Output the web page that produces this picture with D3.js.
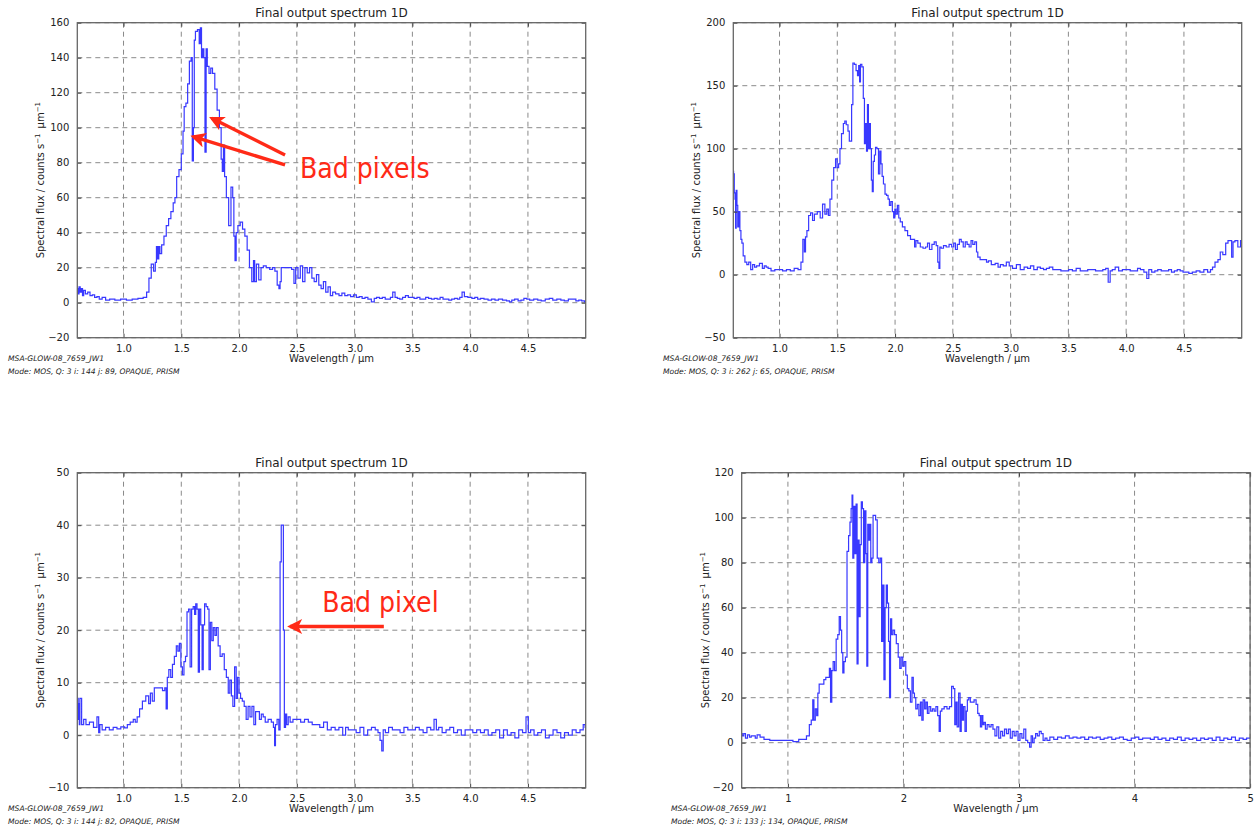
<!DOCTYPE html>
<html>
<head>
<meta charset="utf-8">
<script src="https://cdn.jsdelivr.net/npm/d3@7/dist/d3.min.js"></script>
<style>
  html, body { margin: 0; padding: 0; background: #fff; }
  svg { display: block; }
  text { font-family: "DejaVu Sans", sans-serif; fill: #222; }
</style>
</head>
<body>
<svg id="chart" width="1256" height="828"></svg>
<script>
// ---- Tick labels -------------------------------------------------------
const xTicksHalf = [1.0, 1.5, 2.0, 2.5, 3.0, 3.5, 4.0, 4.5];
const xTicksWhole = [1, 2, 3, 4, 5];
const yTicksA = [-20, 0, 20, 40, 60, 80, 100, 120, 140, 160];
const yTicksB = [-50, 0, 50, 100, 150, 200];
const yTicksC = [-10, 0, 10, 20, 30, 40, 50];
const yTicksD = [-20, 0, 20, 40, 60, 80, 100, 120];

// ---- Spectra: [wavelength (um), flux (counts/s/um)] ---------------------
const spectrumA = [[0.60,8],[0.61,5],[0.62,9],[0.63,6],[0.64,8],[0.65,4],[0.66,7],[0.68,5],[0.70,6],[0.72,4],[0.74,4.5],[0.76,3],[0.78,3.5],[0.80,2],[0.83,3],[0.86,1.5],[0.90,2],[0.95,1.5],[1.00,2],[1.05,1.5],[1.10,2],[1.15,2.5],[1.19,3],[1.21,6],[1.23,14],[1.25,22],[1.27,18],[1.28,23],[1.29,32],[1.30,25],[1.31,32],[1.32,28],[1.34,33],[1.36,38],[1.38,44],[1.40,48],[1.42,52],[1.44,57],[1.45,60],[1.47,72],[1.49,76],[1.51,85],[1.52,98],[1.53,112],[1.55,114],[1.56,125],[1.58,138],[1.59,140],[1.60,81],[1.61,100],[1.615,150],[1.63,155],[1.65,156],[1.66,148],[1.67,157],[1.68,140],[1.69,145],[1.70,140],[1.71,86],[1.72,145],[1.73,135],[1.75,131],[1.76,134],[1.78,131],[1.80,122],[1.82,110],[1.84,100],[1.85,82],[1.86,75],[1.87,90],[1.88,72],[1.90,60],[1.92,44],[1.94,66],[1.95,60],[1.96,38],[1.97,24],[1.98,40],[2.00,44],[2.02,46],[2.04,42],[2.06,38],[2.08,30],[2.10,20],[2.12,12],[2.13,24],[2.14,12],[2.16,22],[2.18,13],[2.20,20],[2.22,21],[2.25,20],[2.28,19],[2.30,20],[2.32,18],[2.34,10],[2.35,8],[2.36,12],[2.37,20],[2.40,20],[2.44,20],[2.47,19],[2.48,11],[2.50,20],[2.52,14],[2.54,21],[2.56,12],[2.58,20],[2.60,17],[2.62,20],[2.64,14],[2.66,12],[2.68,16],[2.70,10],[2.72,8],[2.74,12],[2.76,6],[2.78,9],[2.80,4],[2.82,6],[2.85,5],[2.88,4],[2.90,5.5],[2.93,4],[2.95,4.5],[2.98,3.5],[3.00,4.5],[3.03,3],[3.05,3.5],[3.08,2.5],[3.10,3],[3.13,2],[3.16,0.5],[3.18,2.5],[3.20,3],[3.23,2.5],[3.25,3],[3.28,2],[3.30,2],[3.32,3],[3.34,6],[3.36,3],[3.38,2.5],[3.40,2],[3.43,3],[3.45,4],[3.48,3],[3.50,3],[3.53,2.5],[3.55,3],[3.58,2],[3.60,2],[3.63,3],[3.65,2.5],[3.68,2],[3.70,2.5],[3.73,2],[3.75,3],[3.78,2],[3.80,2],[3.83,1.5],[3.85,2],[3.88,2.5],[3.90,2],[3.92,3],[3.94,6],[3.96,3.5],[4.00,3],[4.03,2.5],[4.05,3],[4.08,2],[4.10,2.5],[4.14,2],[4.17,1.5],[4.20,2],[4.23,1.5],[4.26,2],[4.30,1.5],[4.33,1],[4.35,0.5],[4.37,1.5],[4.40,2],[4.43,1],[4.45,1.5],[4.48,2.5],[4.50,2],[4.53,1.5],[4.57,2],[4.60,1.5],[4.63,1],[4.67,2],[4.70,2.5],[4.73,1.5],[4.77,2],[4.80,1.5],[4.83,1],[4.87,2],[4.90,2],[4.93,1],[4.95,1.5],[4.98,1],[5.00,0.5]];

const spectrumB = [[0.600,82],[0.605,80],[0.612,65],[0.618,60],[0.622,37],[0.628,67],[0.635,55],[0.642,38],[0.652,50],[0.662,35],[0.670,28],[0.679,25],[0.692,15],[0.709,10],[0.725,8],[0.742,10],[0.759,4],[0.776,8],[0.793,6],[0.81,7],[0.843,9],[0.86,5],[0.876,7],[0.893,6],[0.91,5],[0.943,3],[0.976,4],[1.01,4],[1.043,3],[1.077,4],[1.11,3],[1.144,5],[1.177,4],[1.194,10],[1.21,28],[1.22,18],[1.23,30],[1.244,35],[1.26,47],[1.278,49],[1.294,43],[1.31,48],[1.344,50],[1.36,45],[1.385,56],[1.40,48],[1.418,52],[1.428,47],[1.445,60],[1.46,75],[1.478,85],[1.492,92],[1.505,85],[1.518,88],[1.528,100],[1.545,112],[1.56,120],[1.57,122],[1.585,119],[1.60,114],[1.608,106],[1.618,106],[1.63,135],[1.64,168],[1.655,167],[1.67,162],[1.68,158],[1.69,166],[1.696,153],[1.705,167],[1.72,165],[1.73,140],[1.74,104],[1.75,120],[1.756,98],[1.766,135],[1.773,100],[1.783,120],[1.79,100],[1.80,75],[1.806,66],[1.816,90],[1.826,95],[1.836,101],[1.85,100],[1.863,80],[1.873,98],[1.883,88],[1.893,78],[1.906,72],[1.92,64],[1.933,63],[1.946,60],[1.956,55],[1.97,58],[1.983,50],[1.993,45],[2.003,52],[2.013,48],[2.027,55],[2.037,45],[2.053,42],[2.074,38],[2.097,35],[2.12,31],[2.147,28],[2.164,28],[2.174,22],[2.187,27],[2.207,25],[2.23,22],[2.254,21],[2.274,22],[2.288,25],[2.308,20],[2.33,24],[2.348,26],[2.364,23],[2.375,10],[2.385,5],[2.39,22],[2.408,21],[2.43,23],[2.455,22],[2.48,24],[2.50,22],[2.515,25],[2.53,20],[2.548,24],[2.565,28],[2.58,26],[2.60,22],[2.615,26],[2.632,24],[2.65,22],[2.665,27],[2.68,24],[2.70,26],[2.71,18],[2.722,14],[2.75,12],[2.783,12],[2.80,10],[2.816,11],[2.85,8],[2.883,9],[2.90,6],[2.923,8],[2.95,7],[2.976,10],[3.00,7],[3.033,5],[3.067,8],[3.10,4],[3.134,6],[3.16,5],[3.184,7],[3.217,4],[3.245,6],[3.27,5],[3.30,4],[3.32,5],[3.35,6],[3.38,4],[3.42,4],[3.45,3],[3.485,3],[3.52,4],[3.55,3],[3.585,5],[3.62,3],[3.65,3],[3.685,4],[3.72,4],[3.75,3],[3.786,3],[3.81,4],[3.836,5],[3.853,-6],[3.87,3],[3.89,4],[3.92,6],[3.95,3],[3.985,4],[4.02,4],[4.05,3],[4.087,3],[4.11,5],[4.137,4],[4.17,2],[4.187,-3],[4.205,4],[4.237,2],[4.26,3],[4.287,4],[4.32,3],[4.355,3],[4.38,4],[4.405,2],[4.43,3],[4.455,4],[4.48,3],[4.505,2],[4.53,2],[4.555,1],[4.59,2],[4.622,3],[4.655,2],[4.69,4],[4.72,2],[4.74,4],[4.755,6],[4.783,10],[4.806,12],[4.823,18],[4.85,16],[4.873,25],[4.89,27],[4.906,27],[4.92,14],[4.93,26],[4.953,27],[4.98,22],[5.0,27]];

const spectrumC = [[0.600,5],[0.605,7],[0.61,3],[0.615,6],[0.62,2],[0.625,7],[0.65,2],[0.66,3],[0.69,2],[0.72,2.5],[0.76,1.5],[0.78,3.5],[0.79,0.5],[0.80,2],[0.83,1],[0.86,1.5],[0.894,1],[0.927,1.5],[0.96,1.2],[0.993,1.6],[1.026,1.4],[1.04,2],[1.076,2.5],[1.093,3],[1.11,2.5],[1.126,3.5],[1.152,5],[1.175,6.5],[1.21,7.5],[1.225,6],[1.24,8],[1.258,6.5],[1.275,9],[1.29,9],[1.325,9],[1.35,8.5],[1.364,9],[1.374,5],[1.384,11],[1.40,12.5],[1.417,11],[1.43,13.5],[1.45,15],[1.464,17],[1.477,16],[1.49,17.5],[1.503,13],[1.516,11.5],[1.53,14],[1.543,15],[1.556,23.5],[1.57,24],[1.583,13],[1.596,24],[1.61,24.5],[1.62,23],[1.63,25],[1.642,24],[1.652,12],[1.662,24],[1.675,21],[1.685,12.5],[1.695,21],[1.708,25],[1.722,24.5],[1.735,24],[1.745,12.5],[1.758,21.5],[1.77,18],[1.784,20.5],[1.798,19],[1.81,20.5],[1.828,17],[1.844,15],[1.864,15.5],[1.88,12.5],[1.90,11],[1.913,8],[1.927,10.5],[1.94,7.5],[1.953,5.5],[1.97,13],[1.98,7],[1.993,11],[2.006,8],[2.02,7],[2.036,6.5],[2.053,5.5],[2.07,3],[2.086,5.5],[2.103,3.5],[2.12,5.5],[2.136,2],[2.15,4.5],[2.167,4.5],[2.185,3],[2.20,4],[2.218,3.5],[2.235,2.5],[2.268,3],[2.29,2.5],[2.305,1.5],[2.31,-2],[2.32,2],[2.338,3],[2.35,1],[2.36,33],[2.37,40],[2.38,40],[2.387,20],[2.397,1.5],[2.407,4],[2.417,2],[2.434,3.5],[2.45,2.5],[2.483,3],[2.516,3],[2.55,2.5],[2.583,3],[2.616,2.5],[2.65,2],[2.682,2],[2.715,1.5],[2.748,2.5],[2.78,1],[2.815,1.5],[2.848,1],[2.88,1.5],[2.914,0],[2.93,1.5],[2.96,1],[2.997,1],[3.03,0.5],[3.063,1.5],[3.096,0],[3.13,1],[3.162,1.5],[3.195,1],[3.21,0.5],[3.23,-1],[3.24,-3],[3.255,1],[3.278,0.5],[3.31,1.5],[3.344,1],[3.377,1],[3.41,0.5],[3.444,1.5],[3.477,1],[3.51,1],[3.543,1.5],[3.576,1],[3.61,0.5],[3.642,1.5],[3.675,1],[3.70,3],[3.715,1],[3.74,1.5],[3.775,0.5],[3.808,1],[3.84,1.5],[3.874,0.5],[3.907,1],[3.94,0],[3.973,1],[4.006,1],[4.04,0.5],[4.073,1],[4.106,0.5],[4.14,1],[4.172,0],[4.205,0.5],[4.238,1],[4.272,-0.5],[4.305,1],[4.338,0],[4.37,0.5],[4.404,-0.5],[4.437,1],[4.47,0.5],[4.497,3.5],[4.51,0.5],[4.536,1],[4.57,0],[4.60,0.5],[4.635,1],[4.668,-0.5],[4.70,0],[4.735,1],[4.768,0.5],[4.80,-0.5],[4.834,0.5],[4.867,0],[4.90,1],[4.934,0.5],[4.967,1],[4.99,2],[5.0,1.5]];

const spectrumD = [[0.600,4],[0.61,3],[0.625,4],[0.64,2],[0.66,3.5],[0.675,2.5],[0.69,3],[0.71,3],[0.725,2],[0.742,3.5],[0.776,2.5],[0.81,1.5],[0.876,1],[0.943,1],[1.01,1],[1.077,0.5],[1.11,1.5],[1.144,1.5],[1.177,3],[1.194,8],[1.21,10],[1.22,19],[1.23,10],[1.244,15],[1.254,12],[1.264,22],[1.277,26],[1.304,26],[1.318,28],[1.338,29],[1.354,29],[1.364,33],[1.374,18],[1.385,32],[1.398,36],[1.41,32],[1.425,46],[1.438,48],[1.45,56],[1.46,50],[1.47,40],[1.48,31],[1.49,36],[1.505,38],[1.518,85],[1.532,92],[1.542,98],[1.552,104],[1.558,110],[1.565,82],[1.575,105],[1.585,84],[1.595,106],[1.602,35],[1.612,90],[1.62,56],[1.63,88],[1.64,107],[1.649,104],[1.66,80],[1.67,103],[1.68,84],[1.686,34],[1.696,97],[1.706,90],[1.712,97],[1.722,80],[1.732,82],[1.742,101],[1.752,101],[1.766,99],[1.78,82],[1.793,80],[1.806,82],[1.816,45],[1.826,70],[1.836,28],[1.846,60],[1.856,70],[1.866,62],[1.876,45],[1.883,20],[1.893,55],[1.903,48],[1.916,50],[1.93,48],[1.946,44],[1.963,38],[1.973,33],[1.987,38],[2.0,34],[2.013,36],[2.027,30],[2.04,24],[2.053,23],[2.067,18],[2.08,29],[2.09,22],[2.10,20],[2.113,15],[2.127,17],[2.14,12],[2.154,18],[2.164,10],[2.177,19],[2.19,15],[2.20,18],[2.214,13],[2.227,16],[2.244,14],[2.257,15],[2.274,14],[2.288,16],[2.304,12],[2.314,5],[2.324,14],[2.34,15],[2.365,16],[2.388,15],[2.408,16],[2.425,25],[2.438,24],[2.45,8],[2.46,18],[2.47,7],[2.485,22],[2.495,5],[2.505,17],[2.515,10],[2.525,16],[2.54,5],[2.548,14],[2.558,19],[2.572,20],[2.585,18],[2.60,18],[2.622,19],[2.635,17],[2.65,13],[2.66,12],[2.672,7],[2.682,12],[2.692,8],[2.702,9],[2.716,6],[2.732,8],[2.75,7],[2.766,8],[2.783,6],[2.80,3],[2.816,7],[2.833,2],[2.85,5],[2.866,3],[2.883,6],[2.90,4],[2.916,6],[2.933,2],[2.95,5],[2.966,3],[2.983,5],[3.0,1],[3.017,4],[3.033,2],[3.05,6],[3.067,1],[3.083,0],[3.10,-2],[3.11,3],[3.124,0],[3.137,2],[3.15,4],[3.167,3],[3.184,5],[3.20,4],[3.217,1],[3.234,2],[3.25,1],[3.284,2.5],[3.318,1.5],[3.35,2.5],[3.385,2],[3.418,3],[3.45,2],[3.485,2.5],[3.518,2],[3.552,2.5],[3.585,1.5],[3.62,2.5],[3.652,2],[3.686,2.5],[3.72,1.5],[3.753,2],[3.786,2.5],[3.82,1.5],[3.853,2],[3.886,2.5],[3.92,1.5],[3.953,1],[3.99,2],[4.02,2.5],[4.053,1.5],[4.087,2],[4.12,2],[4.154,1.5],[4.187,2.5],[4.22,1.5],[4.254,2],[4.288,1],[4.32,2],[4.354,1.5],[4.388,2.5],[4.42,1],[4.455,2],[4.488,1.5],[4.52,2],[4.555,1],[4.59,2],[4.62,1.5],[4.655,2],[4.69,1],[4.722,2.5],[4.756,1],[4.79,2],[4.823,1.5],[4.856,2.5],[4.89,1],[4.923,2],[4.956,1.5],[4.983,2],[5.0,2]];

// ---- Text --------------------------------------------------------------
const plotTitle = "Final output spectrum 1D";
const xLabel = "Wavelength / \u03bcm";
const sourceName = "MSA-GLOW-08_7659_JW1";
const modeLines = [
  "Mode: MOS, Q: 3 i: 144 j: 89, OPAQUE, PRISM",
  "Mode: MOS, Q: 3 i: 262 j: 65, OPAQUE, PRISM",
  "Mode: MOS, Q: 3 i: 144 j: 82, OPAQUE, PRISM",
  "Mode: MOS, Q: 3 i: 133 j: 134, OPAQUE, PRISM"
];

// Annotation arrows in data coordinates: tail -> head
const arrowsA = [
  { from: [2.398, 78.7], to: [1.604, 94.9] },
  { from: [2.398, 84.4], to: [1.764, 105.4] }
];
const arrowsC = [
  { from: [3.253, 20.7], to: [2.442, 20.7] }
];
const notesA = [{ text: "Bad pixels", at: [2.527, 71] }];
const notesC = [{ text: "Bad pixel", at: [2.719, 23.5] }];

// ---- Layout ------------------------------------------------------------
const W = 508.4, H = 315;
const panels = [
  { left: 77.3,  top: 22.7,  xTicks: xTicksHalf,  xFmt: d3.format(".1f"), yDomain: [-20, 160], yTicks: yTicksA, data: spectrumA, mode: modeLines[0], footX: 8,   arrows: arrowsA, notes: notesA },
  { left: 733.3, top: 22.7,  xTicks: xTicksHalf,  xFmt: d3.format(".1f"), yDomain: [-50, 200], yTicks: yTicksB, data: spectrumB, mode: modeLines[1], footX: 663, arrows: [], notes: [] },
  { left: 77.3,  top: 472.7, xTicks: xTicksHalf,  xFmt: d3.format(".1f"), yDomain: [-10, 50],  yTicks: yTicksC, data: spectrumC, mode: modeLines[2], footX: 8,   arrows: arrowsC, notes: notesC },
  { left: 741.7, top: 472.7, xTicks: xTicksWhole, xFmt: d3.format("d"),   yDomain: [-20, 120], yTicks: yTicksD, data: spectrumD, mode: modeLines[3], footX: 671, arrows: [], notes: [] }
];

const svg = d3.select("#chart");
svg.append("rect").attr("width", 1256).attr("height", 828).attr("fill", "#fff");

const red = "#ff2a17";
const defs = svg.append("defs");
defs.append("marker")
  .attr("id", "arrowhead")
  .attr("viewBox", "0 0 10 10")
  .attr("refX", 8).attr("refY", 5)
  .attr("markerWidth", 16).attr("markerHeight", 15)
  .attr("markerUnits", "userSpaceOnUse")
  .attr("orient", "auto")
  .append("path").attr("d", "M0,0 L10,5 L0,10 L2.5,5 Z").attr("fill", red);

panels.forEach((p, i) => {
  const g = svg.append("g").attr("transform", `translate(${p.left},${p.top})`);
  const x = d3.scaleLinear().domain([0.6, 5.0]).range([0, W]);
  const y = d3.scaleLinear().domain(p.yDomain).range([H, 0]);

  defs.append("clipPath").attr("id", "clip" + i)
    .append("rect").attr("width", W).attr("height", H);

  // dashed grid
  const grid = g.append("g").attr("stroke", "#8a8a8a").attr("stroke-width", 1)
    .attr("stroke-dasharray", "5,4");
  grid.selectAll(".gx").data(p.xTicks).join("line")
    .attr("x1", d => x(d)).attr("x2", d => x(d)).attr("y1", 0).attr("y2", H);
  grid.selectAll(".gy").data(p.yTicks).join("line")
    .attr("y1", d => y(d)).attr("y2", d => y(d)).attr("x1", 0).attr("x2", W);

  // spectrum
  g.append("path")
    .datum(p.data)
    .attr("clip-path", `url(#clip${i})`)
    .attr("fill", "none")
    .attr("stroke", "#3838ff")
    .attr("stroke-width", 1.2)
    .attr("d", d3.line().x(d => x(d[0])).y(d => y(d[1])).curve(d3.curveStep));

  // axes with inward ticks
  const axB = d3.axisBottom(x).tickValues(p.xTicks).tickFormat(p.xFmt).tickSizeInner(-4).tickSizeOuter(0).tickPadding(7);
  const axL = d3.axisLeft(y).tickValues(p.yTicks).tickFormat(d3.format("d")).tickSizeInner(-4).tickSizeOuter(0).tickPadding(8);
  const axT = d3.axisTop(x).tickValues(p.xTicks).tickFormat("").tickSizeInner(-4).tickSizeOuter(0);
  const axR = d3.axisRight(y).tickValues(p.yTicks).tickFormat("").tickSizeInner(-4).tickSizeOuter(0);
  [[axB, `translate(0,${H})`], [axL, null], [axT, null], [axR, `translate(${W},0)`]].forEach(([ax, tr]) => {
    const a = g.append("g").call(ax);
    if (tr) a.attr("transform", tr);
    a.select(".domain").remove();
    a.selectAll(".tick line").attr("stroke", "#444");
    a.selectAll(".tick text").attr("font-family", "DejaVu Sans, sans-serif").attr("font-size", 10).attr("fill", "#2a2a2a");
  });

  // frame
  g.append("rect").attr("width", W).attr("height", H)
    .attr("fill", "none").attr("stroke", "#666").attr("stroke-width", 1.3);

  // title and axis labels
  g.append("text").attr("x", W / 2).attr("y", -6).attr("text-anchor", "middle")
    .attr("font-size", 12).text(plotTitle);
  g.append("text").attr("x", W / 2).attr("y", H + 24).attr("text-anchor", "middle")
    .attr("font-size", 10).text(xLabel);
  const yl = g.append("text")
    .attr("transform", `translate(-33,${H / 2}) rotate(-90)`)
    .attr("text-anchor", "middle").attr("font-size", 10);
  yl.append("tspan").text("Spectral flux / counts s");
  yl.append("tspan").attr("dy", -4).attr("font-size", 7).text("\u22121");
  yl.append("tspan").attr("dy", 4).text("\u2002\u03bcm");
  yl.append("tspan").attr("dy", -4).attr("font-size", 7).text("\u22121");

  // footer
  const fx = p.footX - p.left;
  g.append("text").attr("x", fx).attr("y", H + 23).attr("font-size", 7.6)
    .attr("font-style", "italic").attr("fill", "#333").text(sourceName);
  g.append("text").attr("x", fx).attr("y", H + 36).attr("font-size", 7.6)
    .attr("font-style", "italic").attr("fill", "#333").text(p.mode);

  // annotations
  p.arrows.forEach(a => {
    g.append("line")
      .attr("x1", x(a.from[0])).attr("y1", y(a.from[1]))
      .attr("x2", x(a.to[0])).attr("y2", y(a.to[1]))
      .attr("stroke", red).attr("stroke-width", 3.4)
      .attr("marker-end", "url(#arrowhead)");
  });
  p.notes.forEach(n => {
    const t = g.append("text")
      .attr("x", x(n.at[0])).attr("y", y(n.at[1]))
      .attr("font-family", "Lato, Open Sans, sans-serif")
      .attr("font-size", 29)
      .style("fill", red)
      .text(n.text);
    // condensed lettering
    const natural = t.node().getComputedTextLength();
    t.attr("textLength", natural * 0.87).attr("lengthAdjust", "spacingAndGlyphs");
  });
});
</script>
</body>
</html>
